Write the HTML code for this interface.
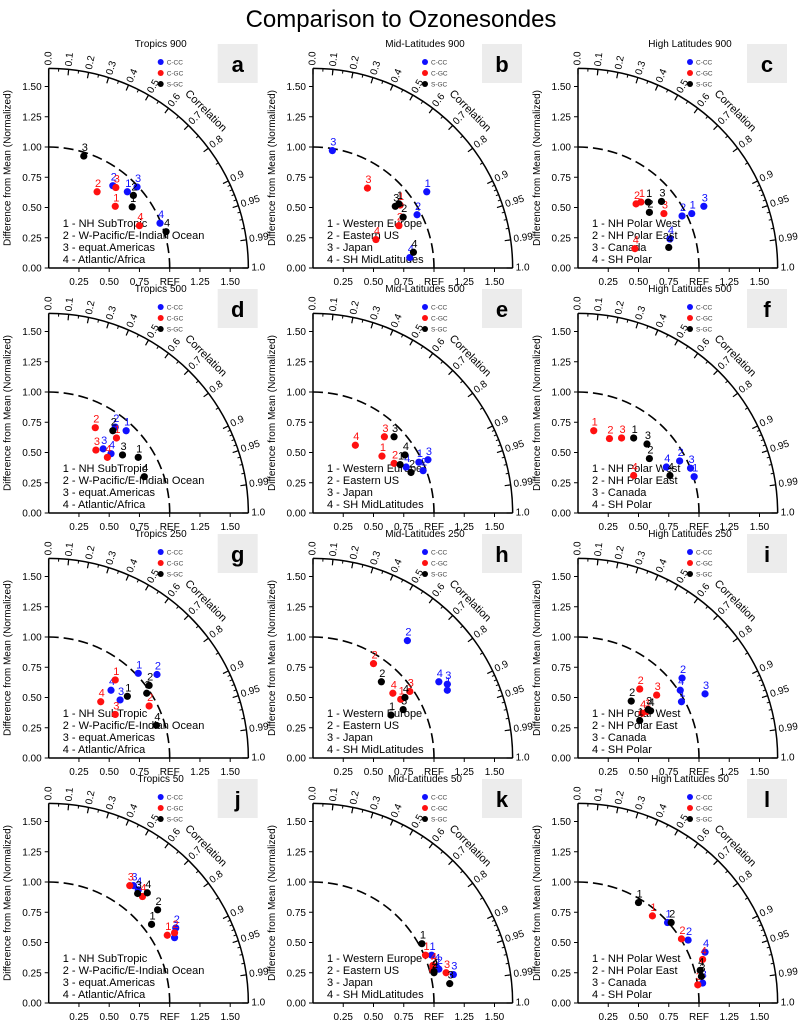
<!DOCTYPE html>
<html><head><meta charset="utf-8"><style>
body{margin:0;background:#fff;}
svg{display:block;font-family:"Liberation Sans",sans-serif;}
</style></head><body>
<svg id="chart" width="802" height="1027" viewBox="0 0 802 1027" xmlns="http://www.w3.org/2000/svg">
<rect width="802" height="1027" fill="#fff"/>
<text x="401" y="27" font-size="24" text-anchor="middle">Comparison to Ozonesondes</text>
</svg>
<script>
const panelTitles = ["Tropics 900","Mid-Latitudes 900","High Latitudes 900","Tropics 500","Mid-Latitudes 500","High Latitudes 500","Tropics 250","Mid-Latitudes 250","High Latitudes 250","Tropics 50","Mid-Latitudes 50","High Latitudes 50"];
const panelLetters = ["a","b","c","d","e","f","g","h","i","j","k","l"];
const tropicsRegions = ["NH SubTropic","W-Pacific/E-Indian Ocean","equat.Americas","Atlantic/Africa"];
const midRegions = ["Western Europe","Eastern US","Japan","SH MidLatitudes"];
const highRegions = ["NH Polar West","NH Polar East","Canada","SH Polar"];
const seriesNames = ["C-CC","C-GC","S-GC"];
const seriesColors = ["#1010ff","#ff1010","#000"];
const yTicks = [0,0.25,0.5,0.75,1.0,1.25,1.5];
const yTickLabels = ["0.00","0.25","0.50","0.75","1.00","1.25","1.50"];
const xTicks = [0.25,0.5,0.75,1.0,1.25,1.5];
const xTickLabels = ["0.25","0.50","0.75","REF","1.25","1.50"];
const corrMajor = [0,0.1,0.2,0.3,0.4,0.5,0.6,0.7,0.8,0.9,0.95,0.99,1.0];
const corrLabels = ["0.0","0.1","0.2","0.3","0.4","0.5","0.6","0.7","0.8","0.9","0.95","0.99","1.0"];

// [x, y] per region 1..4 in normalized units
const a_CC=[[0.65,0.63],[0.53,0.68],[0.73,0.67],[0.92,0.37]];
const a_GC=[[0.55,0.51],[0.40,0.63],[0.555,0.665],[0.75,0.35]];
const a_SGC=[[0.69,0.505],[0.70,0.60],[0.29,0.925],[0.97,0.30]];
const b_CC=[[0.94,0.63],[0.86,0.44],[0.16,0.97],[0.80,0.086]];
const b_GC=[[0.72,0.52],[0.71,0.35],[0.45,0.66],[0.52,0.235]];
const b_SGC=[[0.71,0.53],[0.745,0.42],[0.68,0.51],[0.83,0.13]];
const c_CC=[[0.94,0.45],[0.86,0.43],[1.04,0.51],[0.76,0.24]];
const c_GC=[[0.52,0.545],[0.48,0.53],[0.71,0.45],[0.47,0.16]];
const c_SGC=[[0.58,0.545],[0.59,0.46],[0.69,0.55],[0.75,0.17]];
const d_CC=[[0.64,0.68],[0.55,0.71],[0.45,0.53],[0.515,0.49]];
const d_GC=[[0.56,0.62],[0.385,0.705],[0.39,0.52],[0.485,0.46]];
const d_SGC=[[0.74,0.46],[0.53,0.68],[0.61,0.48],[0.79,0.30]];
const e_CC=[[0.875,0.42],[0.91,0.35],[0.95,0.44],[0.77,0.38]];
const e_GC=[[0.57,0.47],[0.67,0.41],[0.59,0.63],[0.35,0.56]];
const e_SGC=[[0.72,0.40],[0.81,0.335],[0.67,0.63],[0.76,0.48]];
const f_CC=[[0.96,0.30],[0.84,0.43],[0.93,0.37],[0.73,0.38]];
const f_GC=[[0.13,0.68],[0.26,0.615],[0.36,0.62],[0.46,0.31]];
const f_SGC=[[0.46,0.62],[0.59,0.45],[0.57,0.57],[0.76,0.31]];
const g_CC=[[0.74,0.70],[0.895,0.69],[0.59,0.48],[0.515,0.56]];
const g_GC=[[0.55,0.645],[0.83,0.43],[0.55,0.36],[0.43,0.465]];
const g_SGC=[[0.65,0.51],[0.83,0.60],[0.81,0.535],[0.89,0.27]];
const h_CC=[[1.11,0.56],[0.78,0.97],[1.11,0.61],[1.04,0.63]];
const h_GC=[[0.725,0.485],[0.50,0.78],[0.80,0.55],[0.66,0.535]];
const h_SGC=[[0.645,0.355],[0.565,0.63],[0.745,0.40],[0.76,0.50]];
const i_CC=[[0.855,0.465],[0.86,0.66],[1.05,0.53],[0.845,0.56]];
const i_GC=[[0.57,0.385],[0.51,0.57],[0.65,0.52],[0.53,0.37]];
const i_SGC=[[0.51,0.31],[0.44,0.47],[0.58,0.40],[0.60,0.39]];
const j_CC=[[1.04,0.54],[1.05,0.62],[0.70,0.97],[0.74,0.935]];
const j_GC=[[0.98,0.56],[1.04,0.58],[0.67,0.97],[0.775,0.88]];
const j_SGC=[[0.85,0.65],[0.90,0.77],[0.735,0.905],[0.815,0.91]];
const k_CC=[[0.98,0.395],[1.04,0.28],[1.16,0.235],[1.02,0.30]];
const k_GC=[[0.93,0.395],[0.99,0.27],[1.10,0.25],[0.99,0.31]];
const k_SGC=[[0.90,0.49],[1.00,0.25],[1.13,0.16],[1.00,0.26]];
const l_CC=[[0.74,0.665],[0.91,0.52],[1.03,0.165],[1.05,0.42]];
const l_GC=[[0.615,0.72],[0.855,0.53],[0.99,0.15],[1.03,0.36]];
const l_SGC=[[0.50,0.83],[0.77,0.665],[1.02,0.22],[1.01,0.27]];

const panelSeries=[[a_CC,a_GC,a_SGC],[b_CC,b_GC,b_SGC],[c_CC,c_GC,c_SGC],[d_CC,d_GC,d_SGC],[e_CC,e_GC,e_SGC],[f_CC,f_GC,f_SGC],[g_CC,g_GC,g_SGC],[h_CC,h_GC,h_SGC],[i_CC,i_GC,i_SGC],[j_CC,j_GC,j_SGC],[k_CC,k_GC,k_SGC],[l_CC,l_GC,l_SGC]];

const NS="http://www.w3.org/2000/svg";
const svg=document.getElementById('chart');
const SC=121, RMAX=1.65;
const colX=[48.7,313,578], rowY=[268,513,758,1003];
function mk(tag,attrs,parent,text){const e=document.createElementNS(NS,tag);for(const k in attrs)e.setAttribute(k,attrs[k]);if(text!==undefined)e.textContent=text;parent.appendChild(e);return e;}

for(let p=0;p<12;p++){
  const ox=colX[p%3], oy=rowY[Math.floor(p/3)];
  const sx=v=>ox+v*SC, sy=v=>oy-v*SC;
  const g=mk('g',{},svg);
  
  
  const t=mk('text',{x:ox+112,y:oy-221,'font-size':10,'text-anchor':'middle'},g,panelTitles[p]);
  
  
  const box=mk('rect',{x:ox+169,y:oy-224,width:40,height:39,fill:'#ececec'},g);
  
  
  const lt=mk('text',{x:ox+189,y:oy-196,'font-size':22,'font-weight':'bold','text-anchor':'middle'},g,panelLetters[p]);
  
  
  const ya=mk('line',{x1:ox,y1:oy,x2:ox,y2:sy(RMAX),stroke:'#000','stroke-width':1.5},g);
  
  
  const xa=mk('line',{x1:ox,y1:oy,x2:sx(RMAX),y2:oy,stroke:'#000','stroke-width':1.5},g);
  
  
  yTicks.forEach((v,i)=>{
    mk('line',{x1:ox-4,y1:sy(v),x2:ox,y2:sy(v),stroke:'#000'},g);
    const tl=mk('text',{x:ox-7,y:sy(v)+3.5,'font-size':10,'text-anchor':'end'},g,yTickLabels[i]);
    
    
  });
  xTicks.forEach((v,i)=>{
    mk('line',{x1:sx(v),y1:oy,x2:sx(v),y2:oy+4,stroke:'#000'},g);
    const tl=mk('text',{x:sx(v),y:oy+17,'font-size':10,'text-anchor':'middle'},g,xTickLabels[i]);
    
    
  });
  const yt=mk('text',{x:ox-38,y:oy-100,'font-size':10,'text-anchor':'middle',transform:`rotate(-90 ${ox-38} ${oy-100})`},g,'Difference from Mean (Normalized)');
  
  
  const R=RMAX*SC;
  const arc=mk('path',{d:`M${ox} ${oy-R} A${R} ${R} 0 0 1 ${ox+R} ${oy}`,fill:'none',stroke:'#000','stroke-width':1.5},g);
  
  
  const minor=[];
  for(let c=0.05;c<0.9;c+=0.05)minor.push(c);
  for(let c=0.91;c<0.995;c+=0.01)minor.push(c);
  minor.forEach(c=>{const th=Math.acos(c);mk('line',{x1:ox+R*Math.cos(th),y1:oy-R*Math.sin(th),x2:ox+(R-3)*Math.cos(th),y2:oy-(R-3)*Math.sin(th),stroke:'#000'},g);});
  corrMajor.forEach((c,i)=>{
    const th=Math.acos(c);
    mk('line',{x1:ox+R*Math.cos(th),y1:oy-R*Math.sin(th),x2:ox+(R-6)*Math.cos(th),y2:oy-(R-6)*Math.sin(th),stroke:'#000','stroke-width':1.2},g);
    const lx=ox+(R+3)*Math.cos(th), ly=oy-(R+3)*Math.sin(th);
    const deg=-th*180/Math.PI;
    const cl=mk('text',{x:lx,y:ly,'font-size':10,'dominant-baseline':'middle',transform:`rotate(${deg} ${lx} ${ly})`},g,corrLabels[i]);
    
    
  });
  const cx=ox+1.81*SC*Math.cos(Math.PI/4), cy=oy-1.81*SC*Math.sin(Math.PI/4);
  const ct=mk('text',{x:cx,y:cy,'font-size':11,'text-anchor':'middle',transform:`rotate(45 ${cx} ${cy})`},g,'Correlation');
  
  
  const dr=SC;
  const da=mk('path',{d:`M${ox} ${oy-dr} A${dr} ${dr} 0 0 1 ${ox+dr} ${oy}`,fill:'none',stroke:'#000','stroke-width':1.6,'stroke-dasharray':'10 5'},g);
  
  
  seriesNames.forEach((n,si)=>{
    const ly=oy-206+si*11;
    const lm=mk('circle',{cx:ox+112,cy:ly,r:3,fill:seriesColors[si]},g);
    
    
    const ltx=mk('text',{x:ox+118,y:ly+2.5,'font-size':6.5,fill:'#444'},g,n);
    
    
  });
  const regs=[tropicsRegions,midRegions,highRegions][p%3];
  regs.forEach((r,ri)=>{
    const rt=mk('text',{x:ox+14,y:oy-41+ri*12,'font-size':11},g,(ri+1)+' - '+r);
    
    
  });
  panelSeries[p].forEach((ser,si)=>{
    ser.forEach((pt,ri)=>{
      const px=sx(pt[0]), py=sy(pt[1]);
      const c=mk('circle',{cx:px,cy:py,r:3.6,fill:seriesColors[si]},g);
      
      
      const nl=mk('text',{x:px+1,y:py-5,'font-size':11,fill:seriesColors[si],'text-anchor':'middle'},g,String(ri+1));
      
      
    });
  });
}
</script>
</body></html>
